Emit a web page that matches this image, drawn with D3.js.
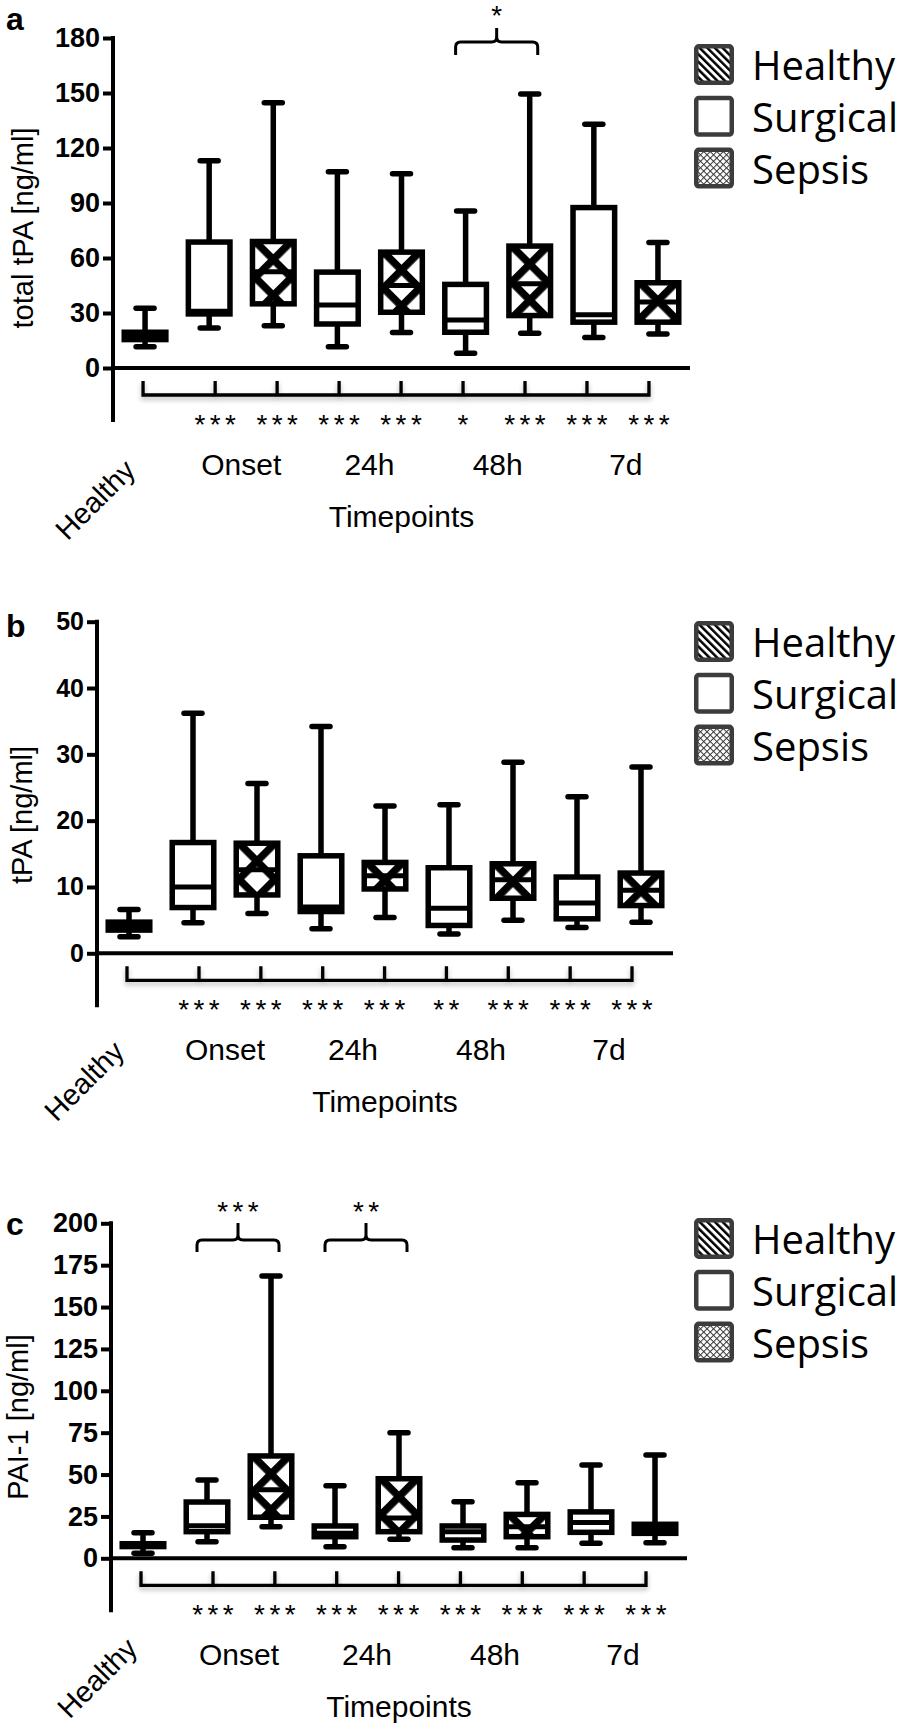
<!DOCTYPE html>
<html><head><meta charset="utf-8">
<script src="https://cdn.jsdelivr.net/npm/d3@7"></script>
<style>
html,body{margin:0;padding:0;background:#fff;}
svg{display:block;}
</style></head><body>
<svg id="chart" width="898" height="1729"></svg>
<script>
// ---------- DATA ----------
const legendGroups = ["Healthy", "Surgical", "Sepsis"];
const boxGroups = ["Healthy","Surgical","Sepsis","Surgical","Sepsis","Surgical","Sepsis","Surgical","Sepsis"];
const timepointLabels = ["Onset", "24h", "48h", "7d"];
const firstLabel = "Healthy";
const xTitle = "Timepoints";

// Panel a: total tPA [ng/ml]
const aMin = [11.6, 21.8, 23.0, 11.6, 19.3, 8.0, 18.9, 16.7, 18.5];
const aQ1  = [15.5, 29.5, 35.0, 24.0, 30.4, 19.5, 28.6, 25.0, 25.0];
const aMed = [18.0, 31.0, 52.5, 34.4, 45.0, 26.2, 46.0, 29.0, 36.0];
const aQ3  = [19.5, 68.7, 69.0, 52.3, 63.2, 45.6, 66.5, 87.5, 46.5];
const aMax = [32.6, 113.0, 144.7, 107.0, 106.0, 85.6, 149.5, 133.0, 68.5];
const aTicks = [0, 30, 60, 90, 120, 150, 180];
const aStars = ["***","***","***","***","*","***","***","***"];
const aCompare = [{i: 5, j: 6, label: "*"}];

// Panel b: tPA [ng/ml]
const bMin = [2.5, 4.6, 6.0, 3.7, 5.4, 2.9, 5.0, 3.9, 4.7];
const bQ1  = [3.5, 6.9, 8.8, 6.3, 9.7, 4.2, 8.3, 5.2, 7.2];
const bMed = [4.3, 10.0, 12.6, 7.0, 11.7, 6.8, 11.1, 7.6, 9.5];
const bQ3  = [4.7, 16.7, 16.6, 14.7, 13.7, 12.9, 13.5, 11.5, 12.1];
const bMax = [6.6, 36.2, 25.6, 34.2, 22.2, 22.4, 28.8, 23.6, 28.1];
const bTicks = [0, 10, 20, 30, 40, 50];
const bStars = ["***","***","***","***","**","***","***","***"];
const bCompare = [];

// Panel c: PAI-1 [ng/ml]
const cMin = [3.0, 9.9, 18.9, 6.9, 11.3, 6.3, 6.3, 9.0, 9.3];
const cQ1  = [7.0, 15.9, 24.5, 12.9, 15.9, 10.9, 12.9, 15.5, 14.9];
const cMed = [7.5, 19.5, 41.0, 14.9, 24.0, 15.9, 18.9, 21.3, 17.5];
const cQ3  = [8.7, 33.6, 61.1, 19.3, 47.5, 19.3, 26.2, 27.7, 20.3];
const cMax = [15.3, 46.7, 168.5, 43.3, 75.0, 33.8, 45.1, 55.7, 61.7];
const cTicks = [0, 25, 50, 75, 100, 125, 150, 175, 200];
const cStars = ["***","***","***","***","***","***","***","***"];
const cCompare = [{i: 1, j: 2, label: "***"}, {i: 3, j: 4, label: "**"}];

// ---------- LAYOUT ----------
const panels = [
  {id:"a", letter:"a", letterY:30, yTitle:"total tPA [ng/ml]", ylabX:33, ylabY:228,
   min:aMin, q1:aQ1, med:aMed, q3:aQ3, max:aMax, ticks:aTicks, stars:aStars, compare:aCompare,
   axisX:113, axisEnd:690, yTop:38, yZero:368, tickFont:27, legendTop:44,
   healthyDx:-8, healthyDy:104,
   brace:{yb:55, yh:42, yp:28, label:25}},
  {id:"b", letter:"b", letterY:637, yTitle:"tPA [ng/ml]", ylabX:32, ylabY:815,
   min:bMin, q1:bQ1, med:bMed, q3:bQ3, max:bMax, ticks:bTicks, stars:bStars, compare:bCompare,
   axisX:97, axisEnd:673, yTop:621.7, yZero:953.3, tickFont:25, legendTop:621,
   healthyDx:-3, healthyDy:100,
   brace:null},
  {id:"c", letter:"c", letterY:1235, yTitle:"PAI-1 [ng/ml]", ylabX:28, ylabY:1417,
   min:cMin, q1:cQ1, med:cMed, q3:cQ3, max:cMax, ticks:cTicks, stars:cStars, compare:cCompare,
   axisX:111, axisEnd:687, yTop:1223.3, yZero:1558.3, tickFont:27, legendTop:1218,
   healthyDx:-4, healthyDy:92,
   brace:{yb:1252, yh:1240, yp:1223, label:1221}}
];

const FONT = "'Liberation Sans', Arial, Helvetica, sans-serif";
const LEGFONT = "'Open Sans', 'Noto Sans', sans-serif";
const SW = 5.5;

const svg = d3.select("#chart");
svg.append("rect").attr("width", 898).attr("height", 1729).attr("fill", "#fff");
const defs = svg.append("defs");

const filt = defs.append("filter").attr("id", "shadow")
  .attr("x", "-5%").attr("y", "-60%").attr("width", "110%").attr("height", "260%");
filt.append("feDropShadow").attr("dx", 0).attr("dy", 3).attr("stdDeviation", 2.5)
  .attr("flood-color", "#000").attr("flood-opacity", 0.28);

// legend patterns
const stripes = defs.append("pattern").attr("id", "stripes")
  .attr("patternUnits", "userSpaceOnUse").attr("width", 5.4).attr("height", 5.4)
  .attr("patternTransform", "rotate(-45)");
stripes.append("rect").attr("width", 5.4).attr("height", 5.4).attr("fill", "#fff");
stripes.append("rect").attr("width", 2.5).attr("height", 5.4).attr("fill", "#000");

const fine = defs.append("pattern").attr("id", "finehatch")
  .attr("patternUnits", "userSpaceOnUse").attr("width", 4.6).attr("height", 4.6)
  .attr("patternTransform", "rotate(45)");
fine.append("rect").attr("width", 4.6).attr("height", 4.6).attr("fill", "#fff");
fine.append("rect").attr("width", 1).attr("height", 4.6).attr("fill", "#333");
fine.append("rect").attr("width", 4.6).attr("height", 1).attr("fill", "#333");

panels.forEach(p => {
  const g = svg.append("g");
  const x = d3.scaleBand().domain(d3.range(boxGroups.length))
    .range([p.axisX, p.axisEnd]).paddingInner(0.265).paddingOuter(0.1325);
  const bw = x.bandwidth();
  const cx = i => x(i) + bw / 2;
  const y = d3.scaleLinear().domain([0, d3.max(p.ticks)]).range([p.yZero, p.yTop]);

  // sepsis box patterns (one per box so the lattice is aligned)
  boxGroups.forEach((grp, i) => {
    if (grp !== "Sepsis") return;
    const S = 25.5, w = 7.5;
    const pat = defs.append("pattern").attr("id", `xp-${p.id}-${i}`)
      .attr("patternUnits", "userSpaceOnUse").attr("width", S).attr("height", S)
      .attr("x", -w / 2).attr("y", -w / 2)
      .attr("patternTransform", `translate(${cx(i)},${y(p.q3[i]) + 18}) rotate(45)`);
    pat.append("rect").attr("width", S).attr("height", S).attr("fill", "#fff");
    pat.append("rect").attr("width", w).attr("height", S).attr("fill", "#000");
    pat.append("rect").attr("width", S).attr("height", w).attr("fill", "#000");
  });

  // panel letter
  g.append("text").attr("x", 6).attr("y", p.letterY).text(p.letter)
    .attr("font-family", FONT).attr("font-weight", "bold").attr("font-size", 32);

  // y axis
  const ax = g.append("g").attr("transform", `translate(${p.axisX},0)`)
    .call(d3.axisLeft(y).tickValues(p.ticks).tickSize(10).tickPadding(3).tickSizeOuter(0));
  ax.select(".domain").remove();
  ax.selectAll("line").attr("stroke", "#000").attr("stroke-width", 4);
  ax.selectAll("text").attr("font-family", FONT).attr("font-weight", "bold")
    .attr("font-size", p.tickFont).attr("fill", "#000");
  g.append("line").attr("x1", p.axisX).attr("x2", p.axisX)
    .attr("y1", p.yTop - 2).attr("y2", p.yZero + 54)
    .attr("stroke", "#000").attr("stroke-width", 4);
  g.append("line").attr("x1", p.axisX).attr("x2", p.axisEnd)
    .attr("y1", p.yZero).attr("y2", p.yZero)
    .attr("stroke", "#000").attr("stroke-width", 4);

  // y title
  g.append("text").attr("transform", `translate(${p.ylabX},${p.ylabY}) rotate(-90)`)
    .attr("text-anchor", "middle").attr("font-family", FONT).attr("font-size", 29)
    .text(p.yTitle);

  // boxes
  const boxes = g.selectAll("g.box").data(boxGroups.map((grp, i) => ({grp, i})))
    .join("g").attr("class", "box");
  boxes.append("line")
    .attr("x1", d => cx(d.i)).attr("x2", d => cx(d.i))
    .attr("y1", d => y(p.max[d.i])).attr("y2", d => y(p.min[d.i]))
    .attr("stroke", "#000").attr("stroke-width", SW);
  ["max", "min"].forEach(k => {
    boxes.append("line")
      .attr("x1", d => cx(d.i) - 9).attr("x2", d => cx(d.i) + 9)
      .attr("y1", d => y(p[k][d.i])).attr("y2", d => y(p[k][d.i]))
      .attr("stroke", "#000").attr("stroke-width", SW).attr("stroke-linecap", "round");
  });
  boxes.append("rect")
    .attr("x", d => x(d.i) + SW / 2).attr("width", bw - SW)
    .attr("y", d => y(p.q3[d.i])).attr("height", d => y(p.q1[d.i]) - y(p.q3[d.i]))
    .attr("fill", d => d.grp === "Healthy" ? "#000" : d.grp === "Surgical" ? "#fff" : `url(#xp-${p.id}-${d.i})`)
    .attr("stroke", "#000").attr("stroke-width", SW);
  boxes.append("line")
    .attr("x1", d => x(d.i) + SW / 2).attr("x2", d => x(d.i) + bw - SW / 2)
    .attr("y1", d => y(p.med[d.i])).attr("y2", d => y(p.med[d.i]))
    .attr("stroke", "#000").attr("stroke-width", 5);

  // bottom bracket
  const top = p.yZero + 13, hy = p.yZero + 27;
  const leftX = cx(0) - 2;
  const t1 = cx(1) + 6, t8 = cx(8) - 9;
  const tickX = d3.range(1, 9).map(k => t1 + (t8 - t1) * (k - 1) / 7);
  let path = `M${leftX},${top}V${hy}H${t8}V${top}`;
  tickX.slice(0, 7).forEach(tx => { path += `M${tx},${top}V${hy}`; });
  g.append("path").attr("d", path).attr("fill", "none").attr("stroke", "#000")
    .attr("stroke-width", 3.3).attr("filter", "url(#shadow)");

  // stars under bracket
  g.selectAll("text.star").data(p.stars).join("text").attr("class", "star")
    .attr("x", (d, k) => tickX[k]).attr("dx", 2.2).attr("y", p.yZero + 66)
    .attr("text-anchor", "middle").attr("font-family", FONT).attr("font-size", 28)
    .attr("letter-spacing", 4.4).text(d => d);

  // category labels
  g.selectAll("text.cat").data(timepointLabels).join("text").attr("class", "cat")
    .attr("x", (d, k) => (cx(1 + 2 * k) + cx(2 + 2 * k)) / 2).attr("y", p.yZero + 107)
    .attr("text-anchor", "middle").attr("font-family", FONT).attr("font-size", 30)
    .text(d => d);
  g.append("text")
    .attr("transform", `translate(${cx(0) + p.healthyDx},${p.yZero + p.healthyDy}) rotate(-45)`)
    .attr("text-anchor", "end").attr("font-family", FONT).attr("font-size", 29).text(firstLabel);
  g.append("text").attr("x", (p.axisX + p.axisEnd) / 2).attr("y", p.yZero + 159)
    .attr("text-anchor", "middle").attr("font-family", FONT).attr("font-size", 30).text(xTitle);

  // comparison braces
  if (p.brace) {
    p.compare.forEach(c => {
      const l = cx(c.i) - 10, r = cx(c.j) + 8, m = (l + r) / 2;
      const b = p.brace;
      const d = `M${l},${b.yb}V${b.yh + 5}Q${l},${b.yh} ${l + 5},${b.yh}H${m - 5}Q${m},${b.yh} ${m},${b.yh - 5}V${b.yp}` +
                `M${m},${b.yh - 5}Q${m},${b.yh} ${m + 5},${b.yh}H${r - 5}Q${r},${b.yh} ${r},${b.yh + 5}V${b.yb}`;
      g.append("path").attr("d", d).attr("fill", "none").attr("stroke", "#000").attr("stroke-width", 3);
      g.append("text").attr("x", m).attr("dx", c.label.length > 1 ? 2.2 : 0).attr("y", b.label)
        .attr("text-anchor", "middle").attr("font-family", FONT).attr("font-size", 28)
        .attr("letter-spacing", c.label.length > 1 ? 4.4 : 0).text(c.label);
    });
  }

  // legend
  const leg = g.selectAll("g.leg").data(legendGroups).join("g").attr("class", "leg")
    .attr("transform", (d, k) => `translate(694,${p.legendTop + k * 51.8})`);
  leg.append("rect").attr("x", 2.25).attr("y", 2.25).attr("width", 35.5).attr("height", 36.5)
    .attr("rx", 2.5)
    .attr("fill", d => d === "Healthy" ? "url(#stripes)" : d === "Surgical" ? "#fff" : "url(#finehatch)")
    .attr("stroke", "#3c3c3c").attr("stroke-width", 4.5);
  leg.append("text").attr("x", 58).attr("y", 36).attr("font-family", LEGFONT)
    .attr("font-size", 40).attr("fill", "#000").text(d => d);
});
</script></body></html>
